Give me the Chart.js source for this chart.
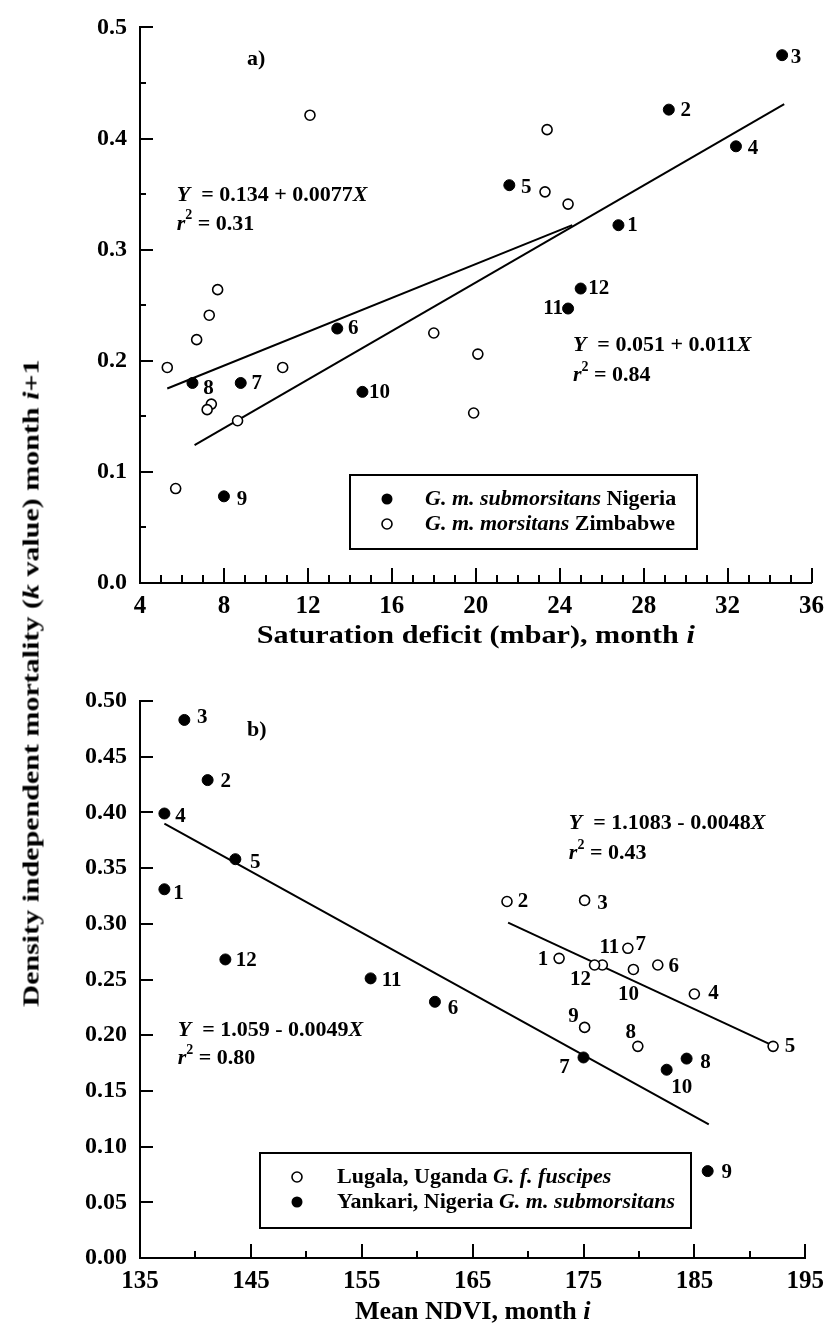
<!DOCTYPE html>
<html>
<head>
<meta charset="utf-8">
<script src="https://cdn.jsdelivr.net/npm/chart.js@4.4.0/dist/chart.umd.min.js"></script>
<style>
  body { margin: 0; background: #fff; }
  #wrap { position: relative; width: 833px; height: 1327px; }
  .panel { position: absolute; left: 0; }
  #ytitle {
    position: absolute; left: 31px; top: 683px;
    transform: translate(-50%, -50%) rotate(-90deg) scaleX(1.25);
    white-space: nowrap; font: bold 24px "Liberation Serif"; color: #000;
  }
</style>
</head>
<body>
<div id="wrap">
  <canvas id="chartA" class="panel" style="top:0" width="833" height="660"></canvas>
  <canvas id="chartB" class="panel" style="top:660px" width="833" height="667"></canvas>
  <div id="ytitle">Density independent mortality (<i>k</i> value) month <i>i</i>+1</div>
</div>
<script>
// a) saturation deficit, month i  vs  k value, month i+1
var months = ['1', '2', '3', '4', '5', '6', '7', '8', '9', '10', '11', '12'];
var nigSatDef = [26.8, 29.2, 34.6, 32.4, 21.6, 13.4, 8.8, 6.5, 8.0, 14.6, 24.4, 25.0];
var nigKa = [0.322, 0.426, 0.475, 0.393, 0.358, 0.229, 0.180, 0.180, 0.078, 0.172, 0.247, 0.265];
var zimSatDef = [12.1, 7.7, 7.3, 23.4, 23.3, 24.4, 6.7, 5.3, 10.8, 7.4, 7.2, 8.65, 5.7, 18.0, 20.1, 19.9];
var zimK = [0.421, 0.264, 0.241, 0.408, 0.352, 0.341, 0.219, 0.194, 0.194, 0.161, 0.156, 0.146, 0.085, 0.225, 0.206, 0.153];
var fitA1X = [5.3, 24.6], fitA1Y = [0.175, 0.322];   // Y = 0.134 + 0.0077X
var fitA2X = [6.6, 34.7], fitA2Y = [0.124, 0.431];   // Y = 0.051 + 0.011X

// b) mean NDVI, month i  vs  k value, month i+1
var lugNDVI = [172.8, 168.1, 175.1, 185.0, 192.1, 181.7, 179.0, 179.9, 175.1, 179.5, 176.7, 176.0];
var lugK = [0.269, 0.320, 0.321, 0.237, 0.190, 0.263, 0.278, 0.190, 0.207, 0.259, 0.263, 0.263];
var yanNDVI = [137.2, 141.1, 139.0, 137.2, 143.6, 161.6, 175.0, 184.3, 186.2, 182.5, 155.8, 142.7];
var yanK = [0.331, 0.429, 0.483, 0.399, 0.358, 0.230, 0.180, 0.179, 0.078, 0.169, 0.251, 0.268];
var fitB1X = [168.2, 191.8], fitB1Y = [0.301, 0.192];  // Y = 1.1083 - 0.0048X
var fitB2X = [137.2, 186.3], fitB2Y = [0.390, 0.120];  // Y = 1.059 - 0.0049X

var FONT = '"Liberation Serif", "Times New Roman", serif';

function pts(xs, ys) {
  return xs.map(function (x, i) { return { x: x, y: ys[i] }; });
}

function fontOf(style, size) {
  if (style === 'i') return 'italic bold ' + size + 'px ' + FONT;
  if (style === 'sup') return 'bold ' + Math.round(size * 0.65) + 'px ' + FONT;
  return 'bold ' + size + 'px ' + FONT;
}

// draw mixed bold / italic / superscript text, sx = horizontal stretch
function drawRich(ctx, parts, x, y, size, align, sx) {
  sx = sx || 1;
  ctx.textBaseline = 'middle';
  ctx.textAlign = 'left';
  var total = 0;
  parts.forEach(function (p) { ctx.font = fontOf(p[1], size); total += ctx.measureText(p[0]).width; });
  ctx.save();
  ctx.translate(align === 'center' ? x - total * sx / 2 : x, y);
  ctx.scale(sx, 1);
  var cx = 0;
  parts.forEach(function (p) {
    ctx.font = fontOf(p[1], size);
    ctx.fillText(p[0], cx, p[1] === 'sup' ? -size * 0.38 : 0);
    cx += ctx.measureText(p[0]).width;
  });
  ctx.restore();
}

var decor = {
  id: 'decor',
  afterDraw: function (chart, args, o) {
    var ctx = chart.ctx, xs = chart.scales.x, ys = chart.scales.y, a = chart.chartArea;
    ctx.save();
    ctx.strokeStyle = '#000';
    ctx.fillStyle = '#000';
    ctx.lineWidth = 2;

    // inward tick marks
    function ticks(t, scale, horiz) {
      var n = Math.round((scale.max - scale.min) / t.minor);
      for (var i = 0; i <= n; i++) {
        var v = scale.min + i * t.minor;
        var r = (v - scale.min) / t.major;
        var len = Math.abs(r - Math.round(r)) < 1e-6 ? t.majorLen : t.minorLen;
        var p = Math.round(scale.getPixelForValue(v));
        ctx.beginPath();
        if (horiz) { ctx.moveTo(p, a.bottom); ctx.lineTo(p, a.bottom - len); }
        else { ctx.moveTo(a.left, p); ctx.lineTo(a.left + len, p); }
        ctx.stroke();
      }
    }
    ticks(o.xTicks, xs, true);
    ticks(o.yTicks, ys, false);

    // month labels beside the points
    o.pointLabels.forEach(function (set) {
      var meta = chart.getDatasetMeta(set.dataset);
      ctx.font = 'bold 21px ' + FONT;
      ctx.textAlign = 'center';
      ctx.textBaseline = 'middle';
      meta.data.forEach(function (el, i) {
        var off = set.offsets[i];
        ctx.fillText(months[i], el.x + off[0], el.y + off[1]);
      });
    });

    // panel letter and fit equations
    o.notes.forEach(function (n) {
      drawRich(ctx, n.parts, xs.getPixelForValue(n.x), ys.getPixelForValue(n.y), n.size, 'left');
    });

    // legend box
    var L = o.legend;
    var bx0 = Math.round(xs.getPixelForValue(L.x0)), bx1 = Math.round(xs.getPixelForValue(L.x1));
    var by0 = Math.round(ys.getPixelForValue(L.y0)), by1 = Math.round(ys.getPixelForValue(L.y1));
    ctx.lineWidth = 2;
    ctx.strokeRect(bx0, by0, bx1 - bx0, by1 - by0);
    L.rows.forEach(function (row, i) {
      var cy = by0 + 24 + i * 25;
      ctx.beginPath();
      ctx.arc(bx0 + 37, cy, row.open ? 5 : 5.5, 0, Math.PI * 2);
      if (row.open) { ctx.fillStyle = '#fff'; ctx.fill(); ctx.lineWidth = 1.6; ctx.stroke(); ctx.fillStyle = '#000'; }
      else ctx.fill();
      drawRich(ctx, row.parts, bx0 + L.textDx, cy, 22, 'left');
    });

    // x axis title
    drawRich(ctx, o.xTitle, (a.left + a.right) / 2, a.bottom + o.xTitleDy, 26, 'center', o.xTitleSx);
    ctx.restore();
  }
};

function makeChart(id, cfg) {
  return new Chart(document.getElementById(id), {
    type: 'scatter',
    data: { datasets: cfg.datasets },
    options: {
      responsive: false,
      animation: false,
      layout: { padding: { top: cfg.padTop, right: 20, left: 0, bottom: 0 } },
      plugins: { legend: { display: false }, tooltip: { enabled: false }, decor: cfg.decor },
      scales: {
        x: {
          type: 'linear', min: cfg.xMin, max: cfg.xMax,
          afterFit: function (s) { s.height = cfg.xHeight; },
          grid: { display: false, drawTicks: false },
          border: { display: true, color: '#000', width: 2 },
          ticks: { stepSize: cfg.xStep, padding: 9, color: '#000', font: { family: FONT, size: 25, weight: 'bold' } }
        },
        y: {
          type: 'linear', min: 0, max: cfg.yMax,
          afterFit: function (s) { s.width = 140; },
          grid: { display: false, drawTicks: false },
          border: { display: true, color: '#000', width: 2 },
          ticks: {
            stepSize: cfg.yStep, padding: 13, color: '#000',
            font: { family: FONT, size: 24, weight: 'bold' },
            callback: function (v) { return v.toFixed(cfg.yDigits); }
          }
        }
      }
    },
    plugins: [decor]
  });
}

function filled(data) {
  return { data: data, pointRadius: 5.5, pointBackgroundColor: '#000', pointBorderColor: '#000', pointBorderWidth: 1 };
}
function open(data) {
  return { data: data, pointRadius: 5, pointBackgroundColor: '#fff', pointBorderColor: '#000', pointBorderWidth: 1.6 };
}
function fitLine(xs, ys) {
  return { data: pts(xs, ys), showLine: true, borderColor: '#000', borderWidth: 2, pointRadius: 0, fill: false };
}

// chart a
makeChart('chartA', {
  xMin: 4, xMax: 36, xStep: 4, yMax: 0.5, yStep: 0.1, yDigits: 1, padTop: 22, xHeight: 77,
  datasets: [
    filled(pts(nigSatDef, nigKa)),
    open(pts(zimSatDef, zimK)),
    fitLine(fitA1X, fitA1Y),
    fitLine(fitA2X, fitA2Y)
  ],
  decor: {
    xTicks: { major: 4, minor: 1, majorLen: 15, minorLen: 8 },
    yTicks: { major: 0.1, minor: 0.05, majorLen: 13, minorLen: 6 },
    pointLabels: [{
      dataset: 0,
      offsets: [[14, 0], [17, 1], [14, 2], [17, 2], [17, 2], [16, 0], [16, 1], [16, 6], [18, 3], [17, 1], [-15, 0], [18, 0]]
    }],
    notes: [
      { x: 9.1, y: 0.471, size: 22, parts: [['a)', '']] },
      { x: 5.75, y: 0.349, size: 22, parts: [['Y', 'i'], ['  = 0.134 + 0.0077', ''], ['X', 'i']] },
      { x: 5.75, y: 0.323, size: 22, parts: [['r', 'i'], ['2', 'sup'], [' = 0.31', '']] },
      { x: 24.63, y: 0.2136, size: 22, parts: [['Y', 'i'], ['  = 0.051 + 0.011', ''], ['X', 'i']] },
      { x: 24.63, y: 0.1868, size: 22, parts: [['r', 'i'], ['2', 'sup'], [' = 0.84', '']] }
    ],
    legend: {
      x0: 14, x1: 30.52, y0: 0.097, y1: 0.031, textDx: 75,
      rows: [
        { open: false, parts: [['G. m. submorsitans', 'i'], [' Nigeria', '']] },
        { open: true, parts: [['G. m. morsitans', 'i'], [' Zimbabwe', '']] }
      ]
    },
    xTitle: [['Saturation deficit (mbar), month ', ''], ['i', 'i']],
    xTitleDy: 53, xTitleSx: 1.16
  }
});

// chart b
makeChart('chartB', {
  xMin: 135, xMax: 195, xStep: 10, yMax: 0.5, yStep: 0.05, yDigits: 2, padTop: 41, xHeight: 69,
  datasets: [
    open(pts(lugNDVI, lugK)),
    filled(pts(yanNDVI, yanK)),
    fitLine(fitB1X, fitB1Y),
    fitLine(fitB2X, fitB2Y)
  ],
  decor: {
    xTicks: { major: 10, minor: 5, majorLen: 14, minorLen: 7 },
    yTicks: { major: 0.05, minor: 0.05, majorLen: 13, minorLen: 13 },
    pointLabels: [{
      dataset: 0,
      offsets: [[-16, 1], [16, 0], [18, 3], [19, 0], [17, 0], [16, 2], [13, -4], [-7, -14], [-11, -11], [-5, 25], [7, -17], [-14, 15]]
    }, {
      dataset: 1,
      offsets: [[14, 4], [18, 1], [18, -2], [16, 3], [20, 3], [18, 7], [-19, 10], [19, 4], [19, 1], [15, 18], [21, 2], [21, 1]]
    }],
    notes: [
      { x: 144.65, y: 0.4737, size: 22, parts: [['b)', '']] },
      { x: 173.68, y: 0.390, size: 22, parts: [['Y', 'i'], ['  = 1.1083 - 0.0048', ''], ['X', 'i']] },
      { x: 173.68, y: 0.363, size: 22, parts: [['r', 'i'], ['2', 'sup'], [' = 0.43', '']] },
      { x: 138.4, y: 0.2044, size: 22, parts: [['Y', 'i'], ['  = 1.059 - 0.0049', ''], ['X', 'i']] },
      { x: 138.4, y: 0.179, size: 22, parts: [['r', 'i'], ['2', 'sup'], [' = 0.80', '']] }
    ],
    legend: {
      x0: 145.81, x1: 184.69, y0: 0.0947, y1: 0.0267, textDx: 77,
      rows: [
        { open: true, parts: [['Lugala, Uganda ', ''], ['G. f. fuscipes', 'i']] },
        { open: false, parts: [['Yankari, Nigeria ', ''], ['G. m. submorsitans', 'i']] }
      ]
    },
    xTitle: [['Mean NDVI, month ', ''], ['i', 'i']],
    xTitleDy: 54, xTitleSx: 1
  }
});
</script>
</body>
</html>
